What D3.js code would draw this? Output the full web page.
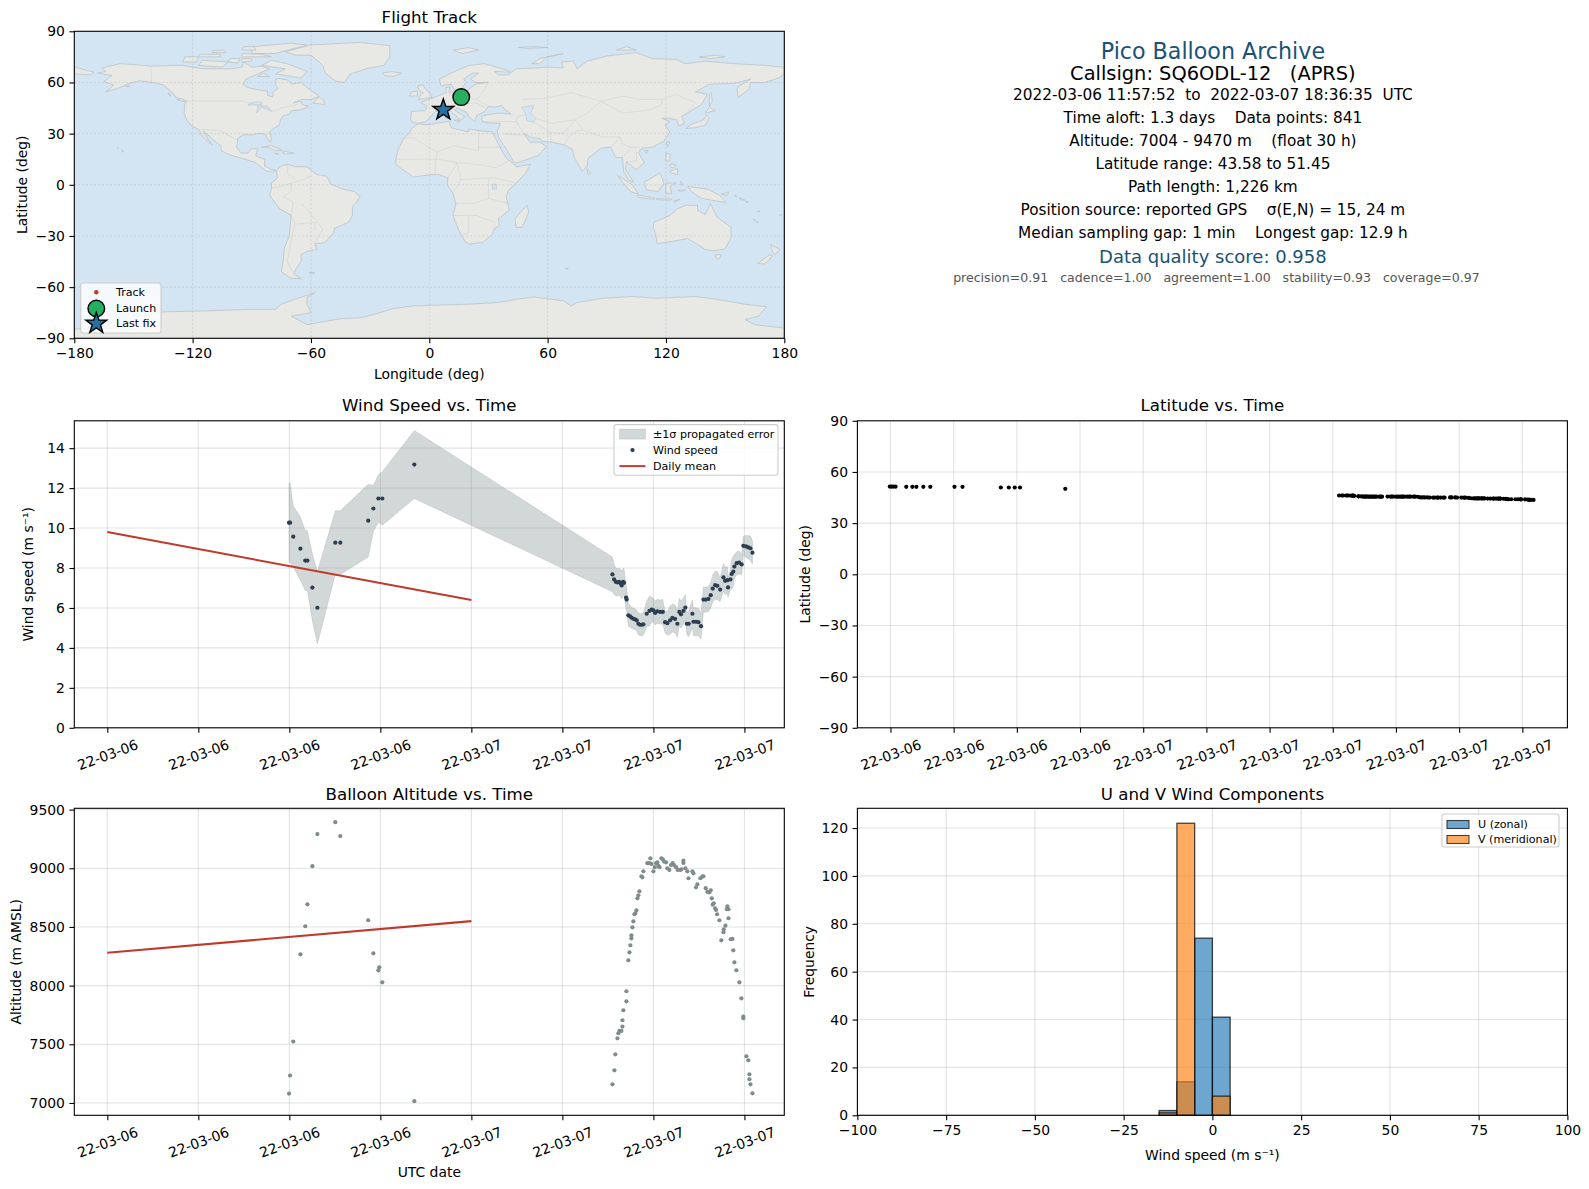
<!DOCTYPE html>
<html>
<head>
<meta charset="utf-8">
<script src="https://cdn.jsdelivr.net/npm/d3@7"></script>
<style>
  html, body { margin: 0; padding: 0; background: #fff; }
  svg { display: block; }
  text { font-family: "DejaVu Sans", sans-serif; fill: #000; }
</style>
</head>
<body>
<div id="chart"></div>
<script>
// Hours are counted from 2022-03-06 00:00 UTC
const windHours = [11.98,12.05,12.26,12.73,13.05,13.19,13.52,13.85,15.03,15.36,17.20,17.54,17.87,18.13,20.24,
  33.30,33.41,33.52,33.63,33.74,33.85,33.91,34.00,34.07,34.20,34.24,34.35,34.46,34.57,34.68,34.79,34.90,35.01,35.12,35.23,35.34,
  35.56,35.74,35.89,36.00,36.11,36.26,36.44,36.62,36.77,36.92,37.10,37.25,37.43,37.58,37.71,37.82,37.98,38.11,38.20,38.33,38.57,
  38.64,38.81,38.97,39.14,39.30,39.45,39.63,39.78,39.91,40.07,40.22,40.40,40.62,40.73,40.88,40.92,41.08,41.16,41.27,41.34,41.49,
  41.65,41.82,41.93,42.11,42.26,42.40,42.53];
const windSpeed = [10.27,10.27,9.57,8.97,8.37,8.37,7.02,6.01,9.27,9.27,10.37,10.98,11.48,11.48,13.18,
  7.68,7.43,7.31,7.28,7.31,7.23,7.13,7.31,7.26,6.52,6.42,5.63,5.58,5.51,5.46,5.43,5.38,5.21,5.16,5.16,5.18,
  5.71,5.85,5.92,5.88,5.75,5.83,5.80,5.80,5.29,5.24,5.38,5.50,5.45,5.21,5.80,5.68,5.85,6.02,5.21,5.21,5.71,
  5.31,5.31,5.29,5.09,6.42,6.42,6.45,6.64,6.97,7.14,7.11,6.92,7.53,7.36,7.39,7.03,7.43,7.70,7.82,8.07,8.24,
  8.27,8.18,9.11,9.08,9.03,8.99,8.77];
const windSigma = [1.96,2.0,1.53,1.58,1.5,1.5,1.68,1.82,1.6,1.6,1.82,1.15,1.19,1.34,1.7,
  .87,.75,.70,.68,.68,.68,.68,.68,.68,.62,.60,.55,.55,.52,.52,.52,.52,.55,.55,.55,.55,
  .62,.75,.62,.60,.60,.60,.60,.62,.55,.60,.70,.70,.70,.68,.68,.68,.65,.65,.55,.65,.70,
  .70,.70,.70,.65,.63,.63,.63,.65,.68,.70,.70,.60,.70,.68,.68,.50,.50,.75,.75,.60,.58,
  .58,.50,.48,.55,.58,.62,.58];

const dailyHours = [0, 24];
const dailyWind = [9.8, 6.4];
const dailyAlt = [8280, 8550];

const altHours = [11.98,12.05,12.26,12.73,13.05,13.19,13.52,13.85,15.03,15.36,17.20,17.54,17.87,17.93,18.13,20.24,
  33.30,33.43,33.49,33.63,33.69,33.76,33.89,33.96,33.96,34.02,
  34.22,34.22,34.35,34.42,34.48,34.55,34.55,34.62,34.68,34.75,
  34.81,34.88,34.95,35.01,35.08,35.21,35.27,35.34,35.60,35.74,
  35.80,35.87,36.00,36.09,36.18,36.26,36.33,36.40,36.53,36.62,
  36.70,36.84,36.92,37.05,37.16,37.27,37.36,37.49,37.60,37.76,
  37.85,37.98,37.98,38.11,38.24,38.31,38.57,38.64,38.81,38.90,
  39.10,39.23,39.30,39.45,39.56,39.69,39.78,39.85,39.91,39.98,
  40.07,40.13,40.20,40.35,40.48,40.62,40.64,40.75,40.88,40.84,
  40.95,40.95,41.10,41.21,41.27,41.34,41.47,41.67,41.80,41.93,
  41.93,42.13,42.26,42.33,42.33,42.40,42.53];
const altitude = [7080,7234,7524,8267,8506,8693,9018,9291,9393,9274,8557,8275,8130,8156,8028,7015,
  7159,7278,7415,7551,7594,7614,7614,7651,7705,7790,
  7866,7952,8216,8284,8344,8403,8429,8497,8548,8608,
  8616,8642,8744,8770,8804,8932,8923,8974,9043,9043,
  9085,9037,8974,9009,9043,9051,9020,9009,9085,9077,
  9057,9051,9000,8986,9028,9043,9028,9009,8986,8986,
  8991,9065,9045,9000,8974,8915,8974,8957,8838,8864,
  8915,8929,8932,8830,8798,8795,8812,8744,8690,8702,
  8659,8645,8608,8557,8386,8455,8480,8511,8676,8651,
  8651,8574,8395,8398,8301,8199,8131,8028,7892,7736,
  7722,7398,7364,7244,7202,7159,7082];

const latHours = [11.97,12.05,12.13,12.24,12.75,13.04,13.23,13.56,13.89,15.04,15.42,17.24,17.62,17.90,18.15,20.30,
  33.30,33.43,33.49,33.63,33.69,33.76,33.89,33.96,33.96,34.02,
  34.22,34.22,34.35,34.42,34.48,34.55,34.55,34.62,34.68,34.75,
  34.81,34.88,34.95,35.01,35.08,35.21,35.27,35.34,35.60,35.74,
  35.80,35.87,36.00,36.09,36.18,36.26,36.33,36.40,36.53,36.62,
  36.70,36.84,36.92,37.05,37.16,37.27,37.36,37.49,37.60,37.76,
  37.85,37.98,37.98,38.11,38.24,38.31,38.57,38.64,38.81,38.90,
  39.10,39.23,39.30,39.45,39.56,39.69,39.78,39.85,39.91,39.98,
  40.07,40.13,40.20,40.35,40.48,40.62,40.64,40.75,40.88,40.84,
  40.95,40.95,41.10,41.21,41.27,41.34,41.47,41.67,41.80,41.93,
  41.93,42.13,42.26,42.33,42.33,42.40,42.53];
const latitude = [51.45,51.45,51.45,51.4,51.3,51.3,51.3,51.3,51.3,51.3,51.3,50.9,50.9,50.9,50.9,50.1,
  46.2,46.2,46.2,46.2,46.2,46.2,46.1,46.1,46.1,46.0,
  45.7,45.7,45.7,45.6,45.6,45.6,45.6,45.6,45.6,45.5,
  45.5,45.5,45.5,45.5,45.5,45.5,45.5,45.5,45.6,45.6,
  45.6,45.6,45.5,45.5,45.5,45.5,45.5,45.5,45.5,45.5,
  45.5,45.5,45.5,45.4,45.1,45.1,45.1,45.1,45.0,45.0,
  45.0,45.0,45.0,45.0,45.0,45.0,45.1,45.1,45.1,45.0,
  45.0,44.9,44.9,44.8,44.6,44.5,44.5,44.5,44.5,44.5,
  44.5,44.5,44.5,44.4,44.4,44.4,44.4,44.4,44.4,44.4,
  44.4,44.4,44.3,44.2,44.1,44.0,44.0,44.0,44.0,44.0,
  43.9,43.9,43.8,43.7,43.7,43.6,43.58];

const histEdges = [-15,-10,-5,0];
const histU = [2,14,74,41];
const histV = [1,122,0,8];

const trackLon = [16.2,16.1,15.8,8.2,7.6,7.1];
const trackLat = [51.45,51.3,50.9,44.6,44.2,43.9];

const windTicks = [0,6,12,18,24,30,36,42];
const latTicks = [12,15,18,21,24,27,30,33,36,39,42];
const lonTicks = [-180,-120,-60,0,60,120,180];
const mapLatTicks = [-90,-60,-30,0,30,60,90];

const infoLines = [
  "Pico Balloon Archive",
  "Callsign: SQ6ODL-12   (APRS)",
  "2022-03-06 11:57:52  to  2022-03-07 18:36:35  UTC",
  "Time aloft: 1.3 days    Data points: 841",
  "Altitude: 7004 - 9470 m    (float 30 h)",
  "Latitude range: 43.58 to 51.45",
  "Path length: 1,226 km",
  "Position source: reported GPS    σ(E,N) = 15, 24 m",
  "Median sampling gap: 1 min    Longest gap: 12.9 h",
  "Data quality score: 0.958",
  "precision=0.91   cadence=1.00   agreement=1.00   stability=0.93   coverage=0.97"
];

// coarse coastlines, lon/lat
const land = [
  [[-168,65.5],[-164,66.5],[-166,68.5],[-157,71],[-150,70.5],[-141,69.6],[-130,70],[-125,70],[-115,68],[-108,68],[-100,68],[-95,69],[-94,72],[-90,69],[-85,69.5],[-81,68],[-87,65],[-93,62],[-94.5,59],[-92,57],[-85,55.3],[-82,55],[-82,52.5],[-79.5,51.5],[-79,54.5],[-76.7,56.5],[-78,59],[-77.5,62.5],[-72,61.5],[-69.5,59],[-65,60],[-62,57],[-57,53],[-56,51.8],[-60,50],[-65,50],[-69,48],[-65,49],[-64.5,47],[-61,46],[-65,44],[-70,43.5],[-71,41.5],[-74,40.5],[-75.5,38],[-76,35],[-79,33],[-81,31],[-80,27],[-80.5,25],[-82,27],[-83,29.5],[-86,30.3],[-90,29.2],[-94,29.5],[-97,27.5],[-97.7,22],[-95.5,18.7],[-92,18.5],[-90.5,21],[-87,21.5],[-88,17],[-83.5,15],[-83.5,11],[-80,9],[-77.5,8.5],[-79.5,7.5],[-83,8.3],[-86,11],[-88,13],[-92,14.5],[-96,15.8],[-101,17.5],[-105.5,20],[-105.5,22.5],[-109,26],[-112.5,29.5],[-114.5,31.5],[-113,28],[-110,23.2],[-112,25],[-115,28.5],[-117,32.5],[-120.5,34.5],[-123,38],[-124.3,42],[-124,47],[-123,49],[-128,51],[-131,55],[-135,58.5],[-140,60],[-147,61],[-152,59.5],[-158,56.5],[-164,54.5],[-160,58.5],[-165,60.5],[-161,64]],
  [[-73,78],[-60,82],[-35,83.5],[-20,81.5],[-20,75],[-23,70],[-32,68],[-40,65],[-43,60],[-48,61],[-53,66],[-54,70],[-60,76],[-68,76]],
  [[-80,73],[-72,71],[-62,66.5],[-65,62.5],[-72,64],[-78,65],[-73,68],[-85,70]],
  [[-117,70],[-105,69],[-102,72],[-115,73]],
  [[-90,77],[-78,77],[-62,82],[-70,83],[-90,81]],
  [[-125,72],[-118,72],[-117,75],[-124,75]],
  [[-95,75],[-80,75],[-85,76.5],[-95,77]],
  [[-117,75],[-106,75],[-106,76.5],[-116,76.5]],
  [[-102,72],[-97,71.5],[-96,74],[-101,74]],
  [[-95,72],[-90,72.5],[-90,74],[-95,74]],
  [[-95,79],[-88,79],[-89,81],[-94,81]],
  [[-87,63.5],[-81,63.5],[-84,65.5]],
  [[-110,77.5],[-103,77.5],[-104,79],[-110,78.5]],
  [[-128,50],[-124,48.5],[-125,50.5]],
  [[-132.5,53],[-131,52],[-132,54]],
  [[-153,57.5],[-152,58],[-154,58]],
  [[-59,48],[-53,47],[-53.5,49.5],[-56,51.5]],
  [[-85,22],[-80,23],[-74.5,20.3],[-78,20],[-82,22]],
  [[-74,19.8],[-68.5,18.5],[-71.5,18],[-74,18.3]],
  [[-78.3,18.4],[-76.3,18.1],[-77,17.8]],
  [[-156,20.5],[-155,19.8],[-155.6,19]],
  [[-158.2,21.6],[-157.7,21.4],[-158,21.3]],
  [[-24,65.5],[-19,66.3],[-14,65.5],[-18,63.5],[-22.5,64]],
  [[-5.5,50],[1.5,51.2],[0,54],[-2,56],[-3,58.6],[-6,58],[-5,55],[-3,54],[-5,52]],
  [[-10,52],[-6,52.2],[-6,55],[-9,54.5]],
  [[-77.5,8.5],[-75,11],[-72,12],[-68,10.7],[-62,10.5],[-57,6],[-52,5],[-50,0.5],[-44,-2.5],[-38,-4],[-35,-7],[-39,-13],[-39,-18],[-41,-22],[-48,-25.5],[-48.5,-28],[-53,-34],[-58,-34.5],[-57,-38],[-62,-39],[-65,-41],[-65,-45],[-68,-50],[-68.5,-52.5],[-65,-55],[-70,-55],[-75,-51],[-74,-44],[-73.5,-37],[-71,-30],[-70,-18],[-76,-14],[-81,-6],[-80,-2],[-80,1],[-77,4]],
  [[-5.8,35.8],[-1,35.2],[10,37.2],[11,33.5],[15,32.3],[20,31],[20,32.8],[25,31.7],[32,31],[32.5,29.8],[35,24],[37.5,18.5],[39.5,15],[43.2,12],[44,10.5],[51.2,12],[49,7],[44,1],[40,-3.5],[39,-7],[40.5,-15],[35,-20],[35.5,-24],[32.8,-26],[32,-29],[27,-33.8],[20,-34.8],[18,-33],[15,-27],[12,-18],[13.5,-11],[12,-5],[9,0],[9.5,4],[5,6],[1,6],[-4,5.2],[-8,4.5],[-13,8.5],[-17,12],[-17,15],[-16,20],[-13,27.5],[-10,30.5],[-9,33]],
  [[49.5,-12],[50.5,-16],[47,-25],[44,-25],[43.5,-20],[47,-15]],
  [[-9,37],[-9.5,39],[-9,43],[-2,43.5],[-1,46],[-4.5,48.3],[2,51],[4,52],[8.5,54],[8.5,57],[10.5,57.5],[10,54.5],[14,54],[19,54.5],[21,57],[24,59.2],[30,60],[23,60],[21,62],[25,65.5],[22,65.5],[17.5,62],[18.5,60],[16.5,56.5],[13,55.5],[11,59],[6,58],[5,62],[12,66],[20,70],[28,71],[40,67],[41,66],[33,66.5],[35,64.5],[40,64.5],[44,68],[54,68.5],[60,69],[68,68.5],[67,72],[73,72.5],[75,68],[80,72.5],[90,75.5],[105,77.5],[113,74],[125,73.5],[130,71],[140,72.5],[155,71],[170,70],[180,69],[180,65],[177,62.5],[170,60],[163,60],[162,56],[156.5,51],[156,57],[163,62],[155,59.5],[142,59],[135,54.5],[141,53],[138,47],[132,43],[128,40],[129.5,36],[126.5,34.5],[125.5,38],[121.5,39],[118,39],[122,37],[119.5,35],[122,31],[119,25.5],[113,22],[108,21.5],[106,19],[109,13],[105,8.8],[100,13.5],[99.5,9],[103.5,1.5],[101,3],[98.5,8],[98,16],[94.5,16],[92,22],[87,21.5],[80.5,15.5],[80,11],[77.5,8],[73.5,16],[72.5,21],[68,23.5],[62,25],[57,25.5],[56.5,27],[51,28],[48,30],[51,25],[56,25],[59.5,22.5],[55,17],[45,13],[43,13],[39,21],[35,28],[34.5,31.5],[36,36],[30,36.3],[27,37],[26.5,40],[29,41],[35,42],[41.5,41.5],[38,44.5],[37,46.5],[33,45.5],[30,46],[28,43],[24,40.5],[23,37],[20,40],[19,42.5],[14,45],[12.5,44],[18,40],[16,38],[10.5,43.5],[3,43],[0,39],[-2,37],[-5.5,36]],
  [[-180,69],[-170,66],[-172,64.5],[-180,65]],
  [[130,33],[135,33.5],[140,35],[142,39.5],[140.5,41],[139,38],[133,35.5]],
  [[140,42],[145,43.5],[142,45.5]],
  [[142,46],[143.5,49],[143,54],[142,53]],
  [[120,18.5],[122,18],[122,14],[120,14]],
  [[122,8],[126,9.5],[126,6],[122.5,7]],
  [[122,12],[125,12],[124,10],[122.5,10]],
  [[95.5,5.5],[103,0],[106,-5.5],[102,-4],[98,1.5]],
  [[105.5,-6],[114,-7.5],[114,-8.5],[106,-7.5]],
  [[115,-8.2],[123,-8.2],[122.5,-9],[116,-8.8]],
  [[124,-9.5],[127,-8.4],[124.5,-10.2]],
  [[109,1.5],[117,7],[119,1],[116,-4],[110,-3]],
  [[120,1],[125,1],[122,-1],[123,-5],[120,-5]],
  [[127.5,2],[128.5,0.5],[127.8,-0.8]],
  [[126,-3.2],[130,-3],[128,-3.8]],
  [[131,-1],[141,-2.5],[147,-6],[150.5,-10.5],[143,-9],[138,-8],[133,-4]],
  [[148,-5.5],[152,-4.2],[151,-6.2]],
  [[155,-6],[156,-7],[154.8,-6.5]],
  [[157,-7.5],[160,-9],[158,-8.8]],
  [[160,-9.5],[162,-10.5],[161,-10]],
  [[114,-22],[122,-18],[126,-14],[130,-12],[136,-12],[136,-15],[140,-17.5],[142.5,-11],[146,-19],[153,-25],[153,-31],[150,-37.5],[145,-38.7],[140,-38],[136,-35],[131,-31.5],[124,-33],[115.5,-34.5],[115,-30],[113.5,-25]],
  [[145,-41],[148,-41],[147,-43.5],[145.5,-43]],
  [[173,-35],[178,-38],[175,-41],[174,-39]],
  [[172.5,-41],[174,-42],[170,-46.5],[166.5,-46]],
  [[80,9.5],[82,7],[80.5,6]],
  [[12,79],[20,80.5],[25,79],[17,77]],
  [[45,80.5],[52,81],[60,80.5],[50,80]],
  [[52,71],[56,74],[68,77],[60,75],[56,71]],
  [[95,79],[105,79],[100,81]],
  [[137,75],[145,76],[150,75],[142,74]],
  [[-61,-51.5],[-58,-51.5],[-59,-52.3]],
  [[69,-49],[70.5,-49],[69.5,-49.7]],
  [[12.5,38],[15.5,38],[15,36.7]],
  [[8.3,41],[9.7,41],[9.5,39],[8.5,39]],
  [[120.2,25],[122,25],[120.8,22]],
  [[109,20],[111,20],[110,18.3]],
  [[167,-15],[167.5,-16],[166.6,-15.6]],
  [[164,-20],[167,-22],[166,-22]],
  [[177.5,-17.5],[178.6,-17.5],[178,-18.2]],
  [[-180,-90],[-180,-84.5],[-158,-84],[-148,-78],[-135,-74.5],[-115,-74],[-103,-73.5],[-90,-73],[-78,-73],[-75,-70],[-68,-67],[-58,-63.3],[-62,-66],[-62,-70],[-60,-75],[-70,-77],[-62,-82],[-45,-78.5],[-35,-78],[-28,-76],[-18,-72.5],[-8,-71],[5,-70.5],[20,-70],[35,-69],[45,-67],[53,-65.8],[68,-68],[72,-71],[75,-69],[88,-66.5],[103,-65.5],[115,-66.5],[135,-65.5],[145,-67],[160,-70],[171,-71.5],[167,-77],[160,-79],[165,-82],[180,-84],[180,-90]]
];
const lakes = [
  [[47,45.5],[53,46.5],[51.5,42],[54,39],[53,36.8],[49.5,37.5],[49,41]],
  [[-92,46.8],[-85,46.8],[-85,48.5],[-89,48.5]],
  [[-87.5,42],[-85,45.5],[-80,43],[-82,46],[-85,46],[-87,46]],
  [[32,-2.5],[34,-2.5],[34,0.3],[32,0.3]]
];
const borders = [
  [[-123,49],[-95,49],[-83,46],[-79,43],[-75,45],[-67,47]],
  [[-117,32.5],[-106,31.7],[-97,26]],
  [[-141,69.6],[-141,60]],
  [[-70,-18],[-69,-10],[-74,-7],[-70,-4],[-70,1],[-67,2],[-60,5]],
  [[-70,-18],[-68,-23],[-70,-33],[-72,-45],[-69,-52]],
  [[-58,-34],[-54,-26],[-58,-20],[-65,-11]],
  [[-67,-23],[-58,-22],[-58,-27]],
  [[-80,-2],[-75,-1],[-70,1]],
  [[-72,12],[-72,7],[-67,2]],
  [[-13,27.5],[-8,27.5],[4,19],[12,23],[25,20],[25,31.7]],
  [[25,22],[37,22]],
  [[4,19],[3,12],[3,6]],
  [[-17,15],[-5,15],[4,15],[14,13],[24,12],[34,10],[40,14]],
  [[9.5,4],[14,13]],
  [[14,13],[16,3],[12,-5]],
  [[16,3],[30,4],[34,4],[44,1]],
  [[30,4],[30,-8],[22,-11],[13.5,-11]],
  [[30,-8],[40.5,-11]],
  [[12,-18],[24,-18],[33,-22],[32.8,-26]],
  [[20,-18],[20,-28],[17,-29]],
  [[8.5,54],[14,51],[24,50],[30,46]],
  [[3,43],[7,44],[13,47],[24,48],[28,45]],
  [[30,60],[28,56],[24,50]],
  [[27,37],[36,37],[44,37],[48,30]],
  [[44,37],[45,40],[48,41]],
  [[38,30],[48,29]],
  [[47,50],[60,51],[72,54],[87,49]],
  [[87,49],[98,52],[107,50],[118,50],[125,53],[135,48],[131,43]],
  [[87,49],[98,42],[112,44],[118,47],[118,50]],
  [[87,49],[80,42],[74,38],[78,32],[88,28],[97,28],[98,24],[102,22],[108,21.5]],
  [[54,39],[62,36],[66,37],[74,38]],
  [[53,36.8],[61,31],[62,25]],
  [[61,31],[68,30],[71,34],[74,38]],
  [[68,23.5],[71,28],[75,32],[78,32]],
  [[92,22],[97,28]],
  [[98,16],[101,20],[102,22]],
  [[100,13.5],[105,14],[105,20]]
];

const W = 1589, H = 1189;
const svg = d3.select("#chart").append("svg").attr("width", W).attr("height", H);

const COL1 = 74.3, COL2 = 857.4, PW = 710, PH = 307;
const ROW1 = 31.3, ROW2 = 420.8, ROW3 = 808.3;

const hourDate = h => new Date(Date.UTC(2022, 2, 6) + h * 3600000);
const fmtDate = d3.utcFormat("%y-%m-%d");
const fmtMinus = d => d < 0 ? "\u2212" + Math.abs(d) : "" + d;
const TICK = 4.86, FS = 13.9;

function panel(x0, y0, title, pad = 8.3) {
  const g = svg.append("g").attr("transform", `translate(${x0},${y0})`);
  g.append("text").attr("x", PW / 2).attr("y", -pad).attr("text-anchor", "middle")
    .attr("font-size", 16.67).text(title);
  return g;
}

function grid(g, xs, ys, x, y, dash) {
  const gg = g.append("g").attr("stroke", "#b0b0b0").attr("stroke-opacity", 0.35).attr("stroke-width", 1.1);
  if (dash) gg.attr("stroke-dasharray", dash);
  gg.selectAll(".gx").data(xs).join("line").attr("class", "gx")
    .attr("x1", d => x(d)).attr("x2", d => x(d)).attr("y1", 0).attr("y2", PH);
  gg.selectAll(".gy").data(ys).join("line").attr("class", "gy")
    .attr("x1", 0).attr("x2", PW).attr("y1", d => y(d)).attr("y2", d => y(d));
}

function axisY(g, y, ticks) {
  const a = g.append("g").call(d3.axisLeft(y).tickValues(ticks).tickFormat(fmtMinus).tickSize(TICK).tickPadding(4.5));
  a.select(".domain").remove();
  a.selectAll("line").attr("stroke", "#000").attr("stroke-width", 1.1);
  a.selectAll("text").attr("font-size", FS).attr("font-family", "DejaVu Sans").attr("fill", "#000");
}

function axisXNum(g, x, ticks) {
  const a = g.append("g").attr("transform", `translate(0,${PH})`)
    .call(d3.axisBottom(x).tickValues(ticks).tickFormat(fmtMinus).tickSize(TICK).tickPadding(4.5));
  a.select(".domain").remove();
  a.selectAll("line").attr("stroke", "#000").attr("stroke-width", 1.1);
  a.selectAll("text").attr("font-size", FS).attr("font-family", "DejaVu Sans").attr("fill", "#000");
}

function axisXDate(g, x, hours) {
  const a = g.append("g").attr("transform", `translate(0,${PH})`)
    .call(d3.axisBottom(x).tickValues(hours.map(hourDate)).tickFormat(fmtDate).tickSize(TICK));
  a.select(".domain").remove();
  a.selectAll("line").attr("stroke", "#000").attr("stroke-width", 1.1);
  a.selectAll("text")
    .attr("font-size", FS).attr("font-family", "DejaVu Sans").attr("fill", "#000")
    .attr("y", 0).attr("dy", "0.35em").attr("text-anchor", "middle")
    .attr("transform", "translate(0,27) rotate(-20)");
}

function frame(g) {
  g.append("rect").attr("width", PW).attr("height", PH).attr("fill", "none")
    .attr("stroke", "#000").attr("stroke-width", 1.1);
}

function ylabel(g, lx, text) {
  g.append("text").attr("transform", `translate(${lx},${PH / 2}) rotate(-90)`)
    .attr("text-anchor", "middle").attr("dy", "0.35em").attr("font-size", FS).text(text);
}
function xlabel(g, ly, text) {
  g.append("text").attr("x", PW / 2).attr("y", ly).attr("text-anchor", "middle")
    .attr("dy", "0.35em").attr("font-size", FS).text(text);
}

function legendBox(g, x, y, w, h, op) {
  g.append("rect").attr("x", x).attr("y", y).attr("width", w).attr("height", h).attr("rx", 2.5)
    .attr("fill", "#fff").attr("fill-opacity", op).attr("stroke", "#ccc").attr("stroke-width", 1.1);
}
function legendText(g, x, y, s) {
  g.append("text").attr("x", x).attr("y", y).attr("dy", "0.35em").attr("font-size", 11.1).text(s);
}

function starPath(r) {
  const pts = d3.range(10).map(i => {
    const rr = i % 2 ? r * 0.4 : r, a = i * Math.PI / 5;
    return [rr * Math.sin(a), -rr * Math.cos(a)];
  });
  return d3.line()(pts) + "Z";
}

// ---- Flight track
{
  const g = panel(COL1, ROW1, "Flight Track");
  const x = d3.scaleLinear().domain([-180, 180]).range([0, PW]);
  const y = d3.scaleLinear().domain([-90, 90]).range([PH, 0]);
  const line = d3.line().x(d => x(d[0])).y(d => y(d[1]));

  g.append("rect").attr("width", PW).attr("height", PH).attr("fill", "#d3e5f2");
  const clip = g.append("clipPath").attr("id", "mapclip");
  clip.append("rect").attr("width", PW).attr("height", PH);
  const m = g.append("g").attr("clip-path", "url(#mapclip)");

  m.selectAll(".land").data(land).join("path").attr("class", "land")
    .attr("d", d => line(d) + "Z")
    .attr("fill", "#e8e8e4").attr("stroke", "#bdc3c7").attr("stroke-width", 0.8).attr("stroke-linejoin", "round");
  m.selectAll(".lake").data(lakes).join("path").attr("class", "lake")
    .attr("d", d => line(d) + "Z")
    .attr("fill", "#d3e5f2").attr("stroke", "#bdc3c7").attr("stroke-width", 0.6);
  m.selectAll(".border").data(borders).join("path").attr("class", "border")
    .attr("d", line).attr("fill", "none").attr("stroke", "#bdc3c7").attr("stroke-opacity", 0.45).attr("stroke-width", 0.7);

  grid(g, lonTicks.slice(1, -1), mapLatTicks.slice(1, -1), x, y, "2,2");

  g.selectAll(".trk").data(d3.zip(trackLon, trackLat)).join("circle").attr("class", "trk")
    .attr("cx", d => x(d[0])).attr("cy", d => y(d[1])).attr("r", 1.7).attr("fill", "#c0392b");

  g.append("circle").attr("cx", x(trackLon[0])).attr("cy", y(trackLat[0])).attr("r", 8.3)
    .attr("fill", "#27ae60").attr("stroke", "#000").attr("stroke-width", 1.4);
  g.append("path").attr("transform", `translate(${x(trackLon[5])},${y(trackLat[5])})`)
    .attr("d", starPath(11)).attr("fill", "#2471a3").attr("stroke", "#000").attr("stroke-width", 1.4);

  axisY(g, y, mapLatTicks);
  axisXNum(g, x, lonTicks);
  frame(g);
  ylabel(g, 22 - COL1, "Latitude (deg)");
  xlabel(g, 374 - ROW1, "Longitude (deg)");

  // legend
  const lx = 80.7 - COL1, ly = 283 - ROW1;
  legendBox(g, lx, ly, 80.3, 50, 0.8);
  const hx = 96.3 - COL1, tx = 116 - COL1;
  g.append("circle").attr("cx", hx).attr("cy", ly + 9.3).attr("r", 2.2).attr("fill", "#c0392b");
  legendText(g, tx, ly + 9.3, "Track");
  g.append("circle").attr("cx", hx).attr("cy", ly + 25.5).attr("r", 8.3)
    .attr("fill", "#27ae60").attr("stroke", "#000").attr("stroke-width", 1.4);
  legendText(g, tx, ly + 25.5, "Launch");
  g.append("path").attr("transform", `translate(${hx},${ly + 40.5})`)
    .attr("d", starPath(11)).attr("fill", "#2471a3").attr("stroke", "#000").attr("stroke-width", 1.4);
  legendText(g, tx, ly + 40.5, "Last fix");
}

// ---- Info text
{
  const cx = COL2 + PW / 2 + 0.5;
  const lineY = [51, 73, 94.5, 117.5, 141, 163.5, 186.5, 209.5, 233, 257, 277.5];
  const lineSize = [22.2, 19.4, 15.3, 15.3, 15.3, 15.3, 15.3, 15.3, 15.3, 18, 12.55];
  const lineColor = ["#1a5276", "#000", "#000", "#000", "#000", "#000", "#000", "#000", "#000", "#1a5276", "#555"];
  svg.append("g").selectAll("text").data(infoLines).join("text")
    .attr("x", (d, i) => i === 10 ? cx + 3.5 : cx).attr("y", (d, i) => lineY[i]).attr("dy", "0.35em")
    .attr("text-anchor", "middle").style("white-space", "pre")
    .attr("font-size", (d, i) => lineSize[i]).style("fill", (d, i) => lineColor[i]).text(d => d);
}

const xWide = d3.scaleUtc().domain([hourDate(-2.176), hourDate(44.63)]).range([0, PW]);

// ---- Wind speed
{
  const g = panel(COL1, ROW2, "Wind Speed vs. Time", 9.6);
  const y = d3.scaleLinear().domain([0, 15.37]).range([PH, 0]);
  grid(g, windTicks.map(hourDate), d3.range(0, 15, 2), xWide, y);

  const rows = windHours.map((h, i) => ({ t: hourDate(h), v: windSpeed[i], s: windSigma[i] }));
  g.append("path").datum(rows)
    .attr("d", d3.area().x(d => xWide(d.t)).y0(d => y(d.v - d.s)).y1(d => y(d.v + d.s)))
    .attr("fill", "#7f8c8d").attr("fill-opacity", 0.35)
    .attr("stroke", "#7f8c8d").attr("stroke-opacity", 0.2).attr("stroke-width", 1);
  g.selectAll(".pt").data(rows).join("circle").attr("class", "pt")
    .attr("cx", d => xWide(d.t)).attr("cy", d => y(d.v)).attr("r", 2.1).attr("fill", "#2c3e50");
  g.append("path").datum(d3.zip(dailyHours, dailyWind))
    .attr("d", d3.line().x(d => xWide(hourDate(d[0]))).y(d => y(d[1])))
    .attr("fill", "none").attr("stroke", "#c0392b").attr("stroke-width", 1.9);

  axisY(g, y, d3.range(0, 15, 2));
  axisXDate(g, xWide, windTicks);
  frame(g);
  ylabel(g, 28.5 - COL1, "Wind speed (m s\u207B\u00B9)");

  const lx = 614 - COL1, ly = 424.6 - ROW2;
  legendBox(g, lx, ly, 164, 50.7, 0.8);
  const hx = 619.5 - COL1, tx = 653 - COL1;
  g.append("rect").attr("x", hx).attr("y", ly + 4.5).attr("width", 26).attr("height", 10)
    .attr("fill", "#7f8c8d").attr("fill-opacity", 0.35).attr("stroke", "#7f8c8d").attr("stroke-opacity", 0.2);
  legendText(g, tx, ly + 9.5, "\u00B11\u03C3 propagated error");
  g.append("circle").attr("cx", hx + 13).attr("cy", ly + 25.5).attr("r", 2.1).attr("fill", "#2c3e50");
  legendText(g, tx, ly + 25.5, "Wind speed");
  g.append("line").attr("x1", hx).attr("x2", hx + 26).attr("y1", ly + 41.5).attr("y2", ly + 41.5)
    .attr("stroke", "#c0392b").attr("stroke-width", 1.9);
  legendText(g, tx, ly + 41.5, "Daily mean");
}

// ---- Latitude
{
  const g = panel(COL2, ROW2, "Latitude vs. Time", 9.6);
  const x = d3.scaleUtc().domain([hourDate(10.43), hourDate(44.14)]).range([0, PW]);
  const y = d3.scaleLinear().domain([-90, 90]).range([PH, 0]);
  grid(g, latTicks.map(hourDate), mapLatTicks.slice(1, -1), x, y);
  g.selectAll(".pt").data(d3.zip(latHours, latitude)).join("circle").attr("class", "pt")
    .attr("cx", d => x(hourDate(d[0]))).attr("cy", d => y(d[1])).attr("r", 2.1).attr("fill", "#000");
  axisY(g, y, mapLatTicks);
  axisXDate(g, x, latTicks);
  frame(g);
  ylabel(g, 805 - COL2, "Latitude (deg)");
}

// ---- Altitude
{
  const g = panel(COL1, ROW3, "Balloon Altitude vs. Time");
  const y = d3.scaleLinear().domain([6895, 9511]).range([PH, 0]);
  const yt = [7000, 7500, 8000, 8500, 9000, 9500];
  grid(g, windTicks.map(hourDate), yt, xWide, y);
  g.selectAll(".pt").data(d3.zip(altHours, altitude)).join("circle").attr("class", "pt")
    .attr("cx", d => xWide(hourDate(d[0]))).attr("cy", d => y(d[1])).attr("r", 2.1).attr("fill", "#7f8c8d");
  g.append("path").datum(d3.zip(dailyHours, dailyAlt))
    .attr("d", d3.line().x(d => xWide(hourDate(d[0]))).y(d => y(d[1])))
    .attr("fill", "none").attr("stroke", "#c0392b").attr("stroke-width", 2.2);
  axisY(g, y, yt);
  axisXDate(g, xWide, windTicks);
  frame(g);
  ylabel(g, 16 - COL1, "Altitude (m AMSL)");
  xlabel(g, 1172 - ROW3, "UTC date");
}

// ---- Histogram
{
  const g = panel(COL2, ROW3, "U and V Wind Components");
  const x = d3.scaleLinear().domain([-100, 100]).range([0, PW]);
  const y = d3.scaleLinear().domain([0, 128.25]).range([PH, 0]);
  const xt = d3.range(-100, 101, 25), yt = d3.range(0, 121, 20);
  grid(g, xt.slice(1, -1), yt, x, y);
  const bars = (vals, col) => g.append("g").selectAll("rect").data(vals).join("rect")
    .attr("display", d => d ? null : "none")
    .attr("x", (d, i) => x(histEdges[i])).attr("width", x(5) - x(0))
    .attr("y", d => y(d)).attr("height", d => PH - y(d))
    .attr("fill", col).attr("fill-opacity", 0.65)
    .attr("stroke", "#000").attr("stroke-opacity", 0.7).attr("stroke-width", 1.3);
  bars(histU, "#1f77b4");
  bars(histV, "#ff7f0e");
  axisY(g, y, yt);
  axisXNum(g, x, xt);
  frame(g);
  ylabel(g, 809 - COL2, "Frequency");
  xlabel(g, 1155 - ROW3, "Wind speed (m s\u207B\u00B9)");

  const lx = 1442 - COL2, ly = 814 - ROW3;
  legendBox(g, lx, ly, 117, 33, 0.8);
  const hx = 1447 - COL2, tx = 1478 - COL2;
  [["#1f77b4", "U (zonal)", 10.5], ["#ff7f0e", "V (meridional)", 25.5]].forEach(r => {
    g.append("rect").attr("x", hx).attr("y", ly + r[2] - 4).attr("width", 22).attr("height", 8)
      .attr("fill", r[0]).attr("fill-opacity", 0.65)
      .attr("stroke", "#000").attr("stroke-opacity", 0.7).attr("stroke-width", 1.1);
    legendText(g, tx, ly + r[2], r[1]);
  });
}
</script>
</body>
</html>
